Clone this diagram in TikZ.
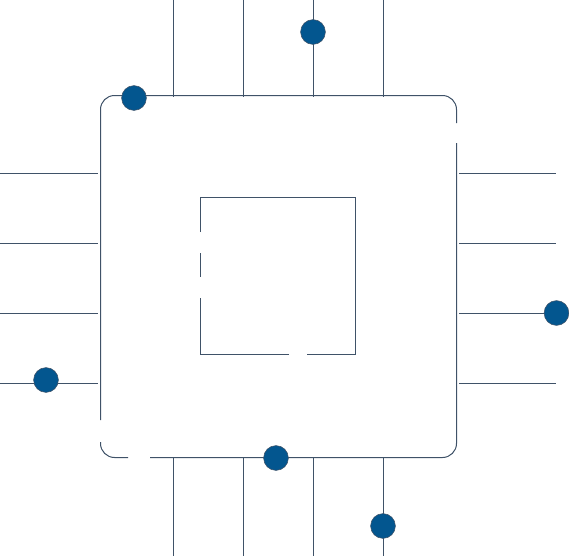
\documentclass[tikz,border=0pt]{standalone}
\definecolor{linec}{HTML}{3F5268}
\definecolor{dotc}{HTML}{03568F}
\tikzset{
  wire/.style={draw=linec,line width=0.75pt,line cap=butt},
  dot/.style={circle,fill=dotc,draw=linec,line width=0.4pt,minimum size=18.6pt,inner sep=0pt}
}
\begin{document}
\begin{tikzpicture}[x=0.75pt,y=-0.75pt]
\useasboundingbox (0,0) rectangle (569,557);
% outer package outline, with its gaps
\draw[wire,rounded corners=10.5pt] (100.5,420) -- (100.5,95.5) -- (456.5,95.5) -- (456.5,123);
\draw[wire,rounded corners=10.5pt] (456.5,143) -- (456.5,457.5) -- (150,457.5);
\draw[wire,rounded corners=10.5pt] (128,457.5) -- (100.5,457.5) -- (100.5,442);
% inner square, with its gaps
\draw[wire] (200.5,232) -- (200.5,197.5) -- (355.5,197.5) -- (355.5,354.5) -- (307,354.5);
\draw[wire] (289,354.5) -- (200.5,354.5) -- (200.5,298);
\draw[wire] (200.5,253) -- (200.5,277);
% pins
\foreach \p in {173,243,313,383}{
  \coordinate (t\p a) at (\p,0);
  \coordinate (t\p b) at (\p,97);
  \coordinate (l\p a) at (0,\p);
  \coordinate (l\p b) at (98,\p);
  \coordinate (r\p a) at (459,\p);
  \coordinate (r\p b) at (556,\p);
  \coordinate (b\p a) at (\p,458);
  \coordinate (b\p b) at (\p,556);
  \draw[wire] (t\p a) -- (t\p b);
  \draw[wire] (l\p a) -- (l\p b);
  \draw[wire] (r\p a) -- (r\p b);
  \draw[wire] (b\p a) -- (b\p b);
}
% signal dots
\node[dot] (d1) at (134,98) {};
\node[dot] (d2) at (313,32) {};
\node[dot] (d3) at (46,380) {};
\node[dot] (d4) at (556.5,313) {};
\node[dot] (d5) at (276,458) {};
\node[dot] (d6) at (383,526) {};
\end{tikzpicture}
\end{document}
